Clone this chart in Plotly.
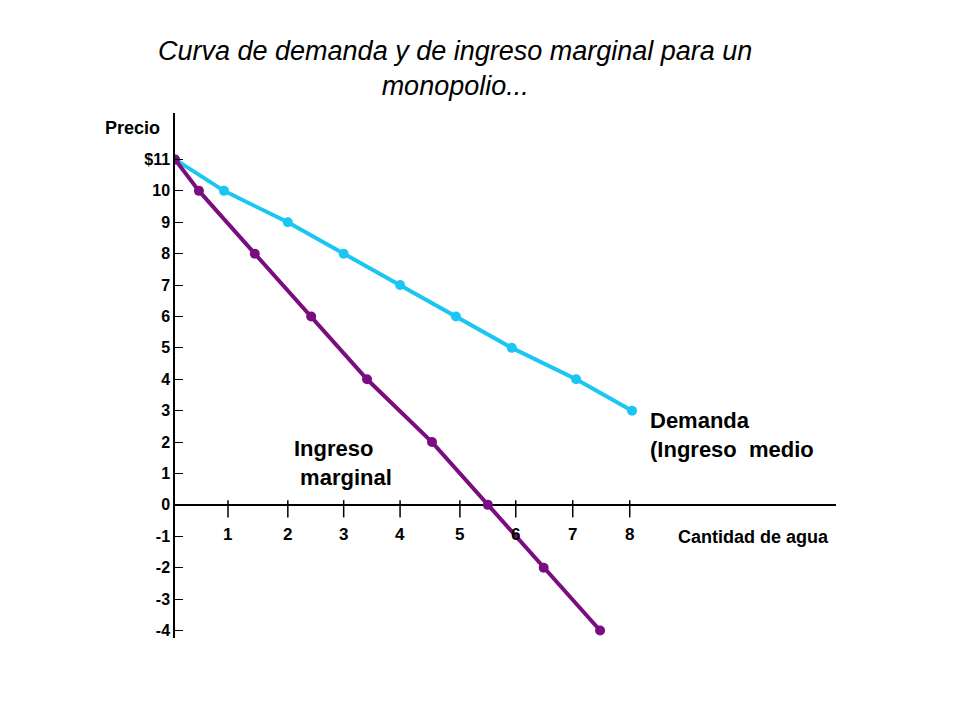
import plotly.graph_objects as go

demanda_q = [0, 0.86, 1.98, 2.96, 3.95, 4.93, 5.91, 7.04, 8.02]
demanda_p = [11, 10, 9, 8, 7, 6, 5, 4, 3]
img_q = [0, 0.42, 1.40, 2.39, 3.37, 4.51, 5.49, 6.47, 7.46]
img_p = [11, 10, 8, 6, 4, 2, 0, -2, -4]
x_ticks = [0.93, 1.98, 2.96, 3.95, 5.0, 5.98, 6.98, 7.98]
x_labels = ["1", "2", "3", "4", "5", "6", "7", "8"]
y_ticks = [11, 10, 9, 8, 7, 6, 5, 4, 3, 2, 1, 0, -1, -2, -3, -4]
y_labels = ["$11", "10", "9", "8", "7", "6", "5", "4", "3", "2", "1", "0", "-1", "-2", "-3", "-4"]

cyan = "#1CC6F2"
purple = "#7A0E80"
bold = dict(family="Arial, Liberation Sans", size=17, color="black")

L, R, T, B = 167, 828, 105, 630

fig = go.Figure()
fig.add_trace(go.Scatter(x=demanda_q, y=demanda_p, mode="lines+markers",
                         line=dict(color=cyan, width=4), marker=dict(size=10, color=cyan)))
fig.add_trace(go.Scatter(x=img_q, y=img_p, mode="lines+markers",
                         line=dict(color=purple, width=4), marker=dict(size=10, color=purple)))
tx, ty = [], []
for t in x_ticks:
    tx += [t, t, None]
    ty += [0.15, -0.4, None]
fig.add_trace(go.Scatter(x=tx, y=ty, mode="lines", line=dict(color="black", width=1.5)))

fig.update_layout(
    width=960, height=720, showlegend=False,
    plot_bgcolor="white", paper_bgcolor="white",
    margin=dict(l=L, r=960 - R, t=T, b=720 - B, autoexpand=False),
    xaxis=dict(range=[0, 11.6], showgrid=False, zeroline=False, showline=False,
               showticklabels=False, ticks=""),
    yaxis=dict(range=[-4.24, 12.48], showgrid=False, zeroline=True, zerolinecolor="black",
               zerolinewidth=1.5, showline=True, linecolor="black", linewidth=1.5,
               tickvals=y_ticks, ticktext=["<b>%s</b>" % s for s in y_labels],
               ticks="inside", ticklen=8, tickcolor="black",
               tickfont=dict(family="Arial, Liberation Sans", size=16, color="black")),
)
for t, l in zip(x_ticks, x_labels):
    fig.add_annotation(x=t, y=-0.95, text="<b>%s</b>" % l, showarrow=False, font=bold)

def pa(x, y, text, size=20, xanchor="left", **kw):
    fig.add_annotation(x=(x - L) / (R - L), y=(B - y) / (B - T), xref="paper", yref="paper", text=text,
                       showarrow=False, xanchor=xanchor, yanchor="middle",
                       font=dict(family="Arial, Liberation Sans", size=size, color="black"), **kw)

pa(447, 60, "<i>Curva de demanda y de ingreso marginal para un<br>monopolio...</i>", size=27,
   xanchor="center", align="center")
pa(95, 120, "<b>Precio</b>", size=18)
pa(668, 529, "<b>Cantidad de agua</b>", size=18)
pa(640, 427, "<b>Demanda<br>(Ingreso  medio</b>", size=22, align="left")
pa(284, 455, "<b>Ingreso<br> marginal</b>", size=22, align="left")

fig.write_html("out.html")
